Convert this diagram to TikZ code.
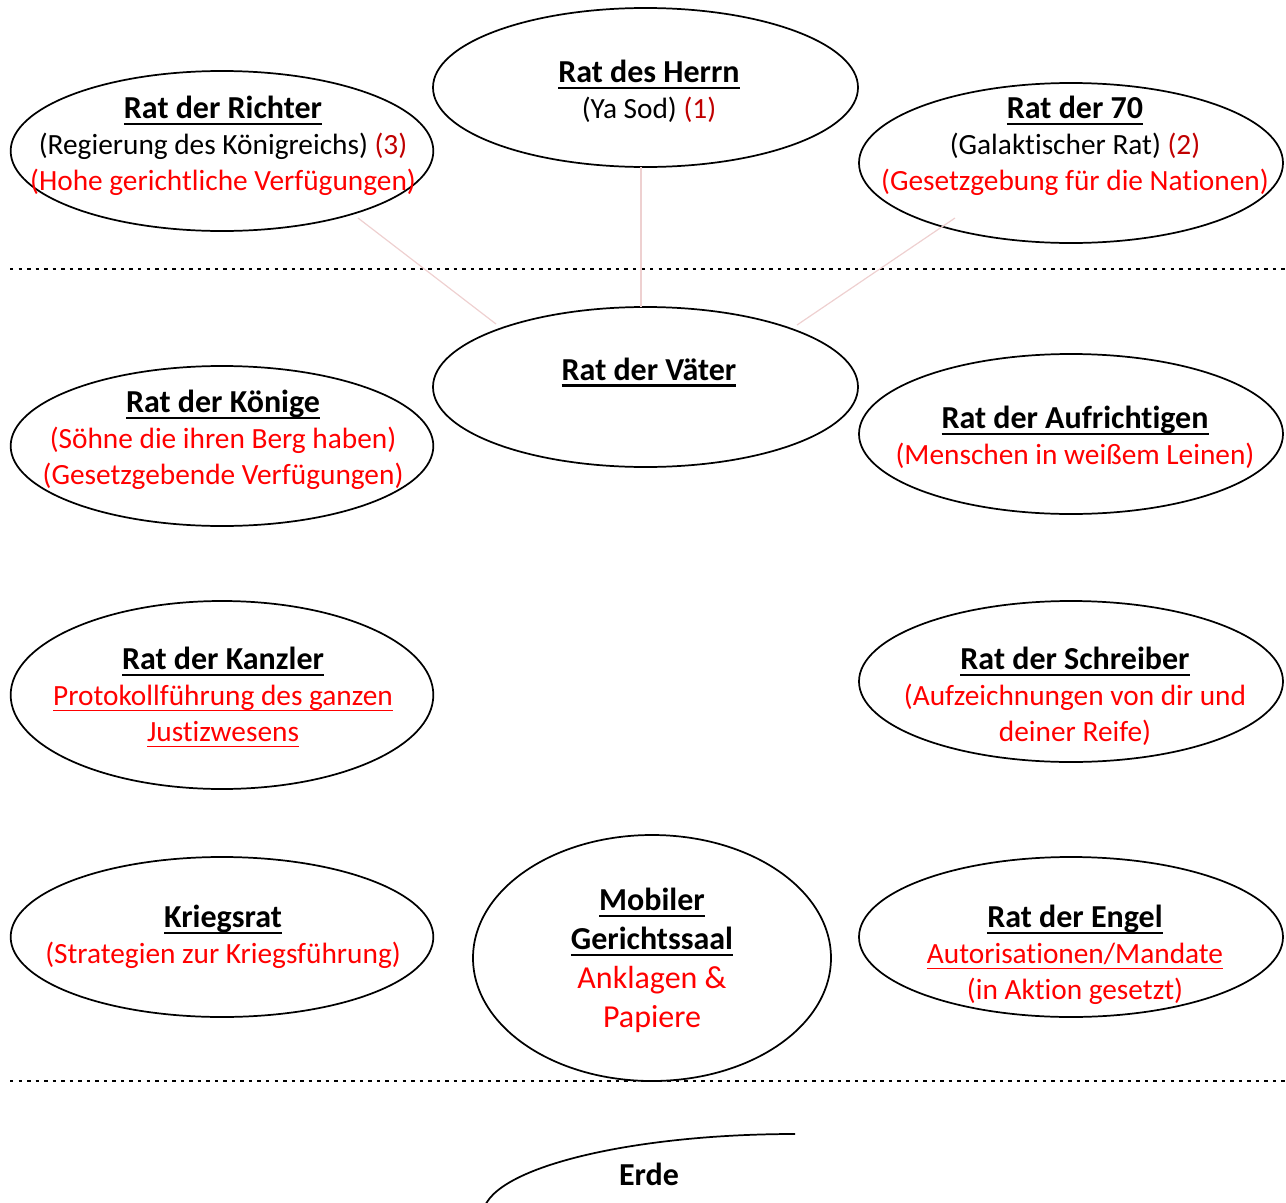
\documentclass[tikz,border=0pt]{standalone}
\usepackage{fontspec}
\setmainfont{Carlito}[Ligatures={NoCommon}]
\usetikzlibrary{shapes.geometric,calc}
\definecolor{rd}{RGB}{255,0,0}
\definecolor{drd}{RGB}{192,0,0}
\definecolor{conn}{RGB}{238,208,208}
\newsavebox\ulbox
\newcommand\ulx[3]{\sbox\ulbox{#3}\leavevmode\rlap{\rule[-#1]{\wd\ulbox}{#2}}\usebox\ulbox}
\newcommand\ttl[1]{{\fontsize{24pt}{27pt}\selectfont\ulx{4.8pt}{1.9pt}{\textbf{#1}}}}
\newcommand\rul[1]{\ulx{3.8pt}{1.1pt}{#1}}
\begin{document}
\begin{tikzpicture}[x=0.75pt,y=-0.75pt,
  oval/.style={draw,ellipse,line width=1.3pt,inner sep=0pt,outer sep=0pt},
  wide/.style={oval,minimum width=317pt,minimum height=120pt},
  txt/.style={align=center,inner sep=0pt,font=\fontsize{22pt}{27pt}\selectfont},
  bigtxt/.style={align=center,inner sep=0pt,font=\fontsize{24pt}{29.25pt}\selectfont},
  link/.style={draw=conn,line width=0.9pt},
  sep/.style={line width=1.7pt,dash pattern=on 2.6pt off 3.8pt}]
\useasboundingbox (0,0) rectangle (1286,1203);

% separators
\draw[sep] (10,269) -- (1286,269);
\draw[sep] (10,1081) -- (1286,1081);

% ellipses
\node[wide,minimum width=318.75pt,minimum height=119.25pt] (herrn) at (645.5,87.5) {};
\node[wide] (richter) at (222,151) {};
\node[wide,minimum width=318pt] (siebzig) at (1071,163) {};
\node[wide,minimum width=318.75pt] (vaeter) at (645.5,387) {};
\node[wide] (koenige) at (222,446) {};
\node[wide,minimum width=318pt] (aufr) at (1071,434) {};
\node[wide,minimum height=141pt] (kanzler) at (222,695) {};
\node[wide,minimum width=318pt,minimum height=120.75pt] (schreiber) at (1071,681.5) {};
\node[wide] (kriegsrat) at (222,937) {};
\node[oval,minimum width=268.5pt,minimum height=184.5pt] (mobil) at (652,958) {};
\node[wide,minimum width=318pt] (engel) at (1071,937) {};

% connectors
\draw[link] ($(richter.center)+(136,67)$) -- ($(vaeter.center)+(-149.5,-63)$);
\draw[link] ($(herrn.south)+(-4.5,0)$) -- ($(vaeter.north)+(-4.5,0)$);
\draw[link] ($(siebzig.center)+(-116,55)$) -- ($(vaeter.center)+(151.5,-62)$);

% texts
\node[txt] (herrnT) at (649,93.5) {\strut\ttl{Rat des Herrn}\\(Ya Sod) \textcolor{drd}{(1)}\strut};
\node[txt] (richterT) at (223,147.5) {\strut\ttl{Rat der Richter}\\(Regierung des Königreichs) \textcolor{drd}{(3)}\\\textcolor{rd}{(Hohe gerichtliche Verfügungen)}\strut};
\node[txt] (siebzigT) at (1075,147.5) {\strut\ttl{Rat der 70}\\(Galaktischer Rat) \textcolor{drd}{(2)}\\\textcolor{rd}{(Gesetzgebung für die Nationen)}\strut};
\node[txt] (vaeterT) at (649,373) {\strut\ttl{Rat der Väter}\strut};
\node[txt] (koenigeT) at (223,441.5) {\strut\ttl{Rat der Könige}\\\textcolor{rd}{(Söhne die ihren Berg haben)}\\\textcolor{rd}{(Gesetzgebende Verfügungen)}\strut};
\node[txt] (aufrT) at (1075,439.5) {\strut\ttl{Rat der Aufrichtigen}\\\textcolor{rd}{(Menschen in weißem Leinen)}\strut};
\node[txt] (kanzlerT) at (223,698.7) {\strut\ttl{Rat der Kanzler}\\\textcolor{rd}{\rul{Protokollführung des ganzen}}\\\textcolor{rd}{\rul{Justizwesens}}\strut};
\node[txt] (schreiberT) at (1075,698.5) {\strut\ttl{Rat der Schreiber}\\\textcolor{rd}{(Aufzeichnungen von dir und}\\\textcolor{rd}{deiner Reife)}\strut};
\node[txt] (kriegsratT) at (223,938.5) {\strut\ttl{Kriegsrat}\\\textcolor{rd}{(Strategien zur Kriegsführung)}\strut};
\node[bigtxt] (mobilT) at (652,961.5) {\strut\ttl{Mobiler}\\\ttl{Gerichtssaal}\\\textcolor{rd}{Anklagen \&}\\\textcolor{rd}{Papiere}\strut};
\node[txt] (engelT) at (1075,956.7) {\strut\ttl{Rat der Engel}\\\textcolor{rd}{\rul{Autorisationen/Mandate}}\\\textcolor{rd}{(in Aktion gesetzt)}\strut};

% Erde
\draw[line width=1.3pt] (483,1215) .. controls (483,1170) and (625,1134) .. (795,1134);
\node[txt,font=\fontsize{24pt}{27pt}\selectfont] (erde) at (649,1178) {\strut\textbf{Erde}\strut};
\end{tikzpicture}
\end{document}
